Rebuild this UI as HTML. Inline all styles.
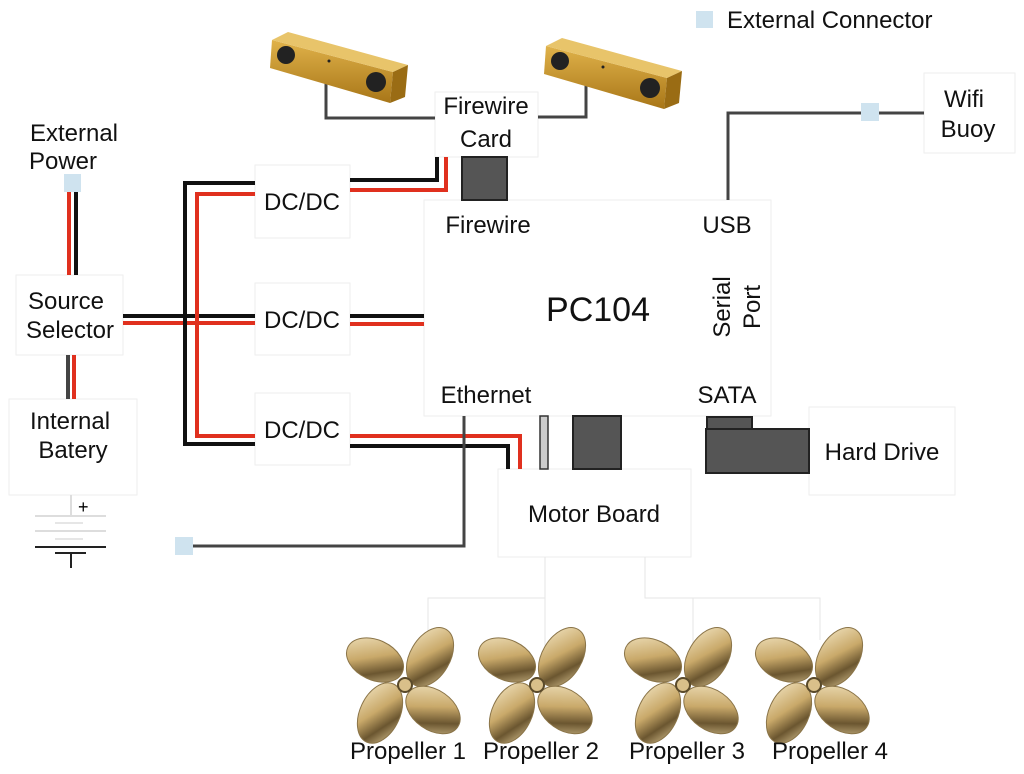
<!DOCTYPE html>
<html><head><meta charset="utf-8"><style>
html,body{margin:0;padding:0;background:#fff;}
svg{display:block;}
svg text{font-family:"Liberation Sans",Arial,sans-serif;}
</style></head><body>
<svg width="1024" height="774" viewBox="0 0 1024 774" xmlns="http://www.w3.org/2000/svg" font-family="Liberation Sans, sans-serif">
<defs>
<linearGradient id="gold" x1="0" y1="0" x2="1" y2="1">
<stop offset="0" stop-color="#f3e6c4"/><stop offset="0.45" stop-color="#c9a96a"/><stop offset="0.7" stop-color="#6b5630"/><stop offset="1" stop-color="#e2cc98"/></linearGradient>
<linearGradient id="cam" x1="0" y1="0" x2="0" y2="1">
<stop offset="0" stop-color="#e0b24a"/><stop offset="1" stop-color="#a87618"/></linearGradient>
</defs>
<g fill="#fff" stroke="#eeeeee" stroke-width="1">
<rect x="16" y="275" width="107" height="80"/>
<rect x="9" y="399" width="128" height="96"/>
<rect x="255" y="165" width="95" height="73"/>
<rect x="255" y="283" width="95" height="72"/>
<rect x="255" y="393" width="95" height="72"/>
<rect x="424" y="200" width="347" height="216"/>
<rect x="435" y="92" width="103" height="65"/>
<rect x="498" y="469" width="193" height="88"/>
<rect x="809" y="407" width="146" height="88"/>
<rect x="924" y="73" width="91" height="80"/>
</g>
<g fill="none" stroke-width="4">
<path d="M69 192V275" stroke="#e0301e"/><path d="M76 192V275" stroke="#111"/>
<path d="M68 355V399" stroke="#444"/><path d="M74 355V399" stroke="#e0301e"/>
<path d="M123 316H255" stroke="#111"/><path d="M123 323H255" stroke="#e0301e"/>
<path d="M255 183H185V444H255" stroke="#111"/>
<path d="M255 194H197V436H255" stroke="#e0301e"/>
<path d="M350 180H437V157" stroke="#111"/>
<path d="M350 190H446V157" stroke="#e0301e"/>
<path d="M350 316H424" stroke="#111"/><path d="M350 324H424" stroke="#e0301e"/>
<path d="M350 436H520V469" stroke="#e0301e"/>
<path d="M350 446H508V469" stroke="#111"/>
<path d="M464 416V546H193" stroke="#444" stroke-width="3"/>
<path d="M728 200V113H861M879 113H924" stroke="#444" stroke-width="3"/>
<path d="M326 80V118H435" stroke="#444" stroke-width="3"/>
<path d="M586 84V117H538" stroke="#444" stroke-width="3"/>
</g>
<g fill="none" stroke="#e6e6e6" stroke-width="1">
<path d="M545 557V598H428V640M545 598V700"/>
<path d="M645 557V598H820V640M693 598V700"/>
</g>
<g fill="#cfe3ef">
<rect x="696" y="11" width="17" height="17"/>
<rect x="64" y="174" width="17" height="18"/>
<rect x="861" y="103" width="18" height="18"/>
<rect x="175" y="537" width="18" height="18"/>
</g>
<g stroke="#222" stroke-width="2" fill="#555">
<rect x="462" y="157" width="45" height="43"/>
<rect x="573" y="416" width="48" height="53"/>
<rect x="707" y="417" width="45" height="12"/>
<rect x="706" y="429" width="103" height="44"/>
</g>
<rect x="540" y="416" width="8" height="53" fill="#ccc" stroke="#333" stroke-width="1.5"/>
<g stroke-width="2" fill="none">
<path d="M71 495V515" stroke="#ddd"/>
<path d="M35 516H106M35 531H106" stroke="#ddd"/>
<path d="M55 523H83M55 539H83" stroke="#e6e6e6"/>
<path d="M35 547H106" stroke="#222"/>
<path d="M55 553H86M71 553V568" stroke="#222"/>
</g>
<text x="78" y="513" font-size="18">+</text>
<g id="cam1">
<polygon points="272,40 393,72 390,103 270,68" fill="url(#cam)"/>
<polygon points="272,40 288,32 408,65 393,72" fill="#e8c46a"/>
<polygon points="393,72 408,65 405,97 390,103" fill="#9a6c14"/>
<circle cx="286" cy="55" r="9" fill="#222"/><circle cx="376" cy="82" r="10" fill="#222"/>
<circle cx="329" cy="61" r="1.5" fill="#222"/>
</g>
<use href="#cam1" transform="translate(274,6)"/>
<g id="p1" transform="translate(405,685)">
<g fill="url(#gold)" stroke="#8a7448" stroke-width="1">
<ellipse cx="-30" cy="-25" rx="30" ry="20" transform="rotate(25 -30 -25)"/>
<ellipse cx="25" cy="-28" rx="20" ry="32" transform="rotate(30 25 -28)"/>
<ellipse cx="28" cy="25" rx="30" ry="20" transform="rotate(35 28 25)"/>
<ellipse cx="-25" cy="28" rx="20" ry="32" transform="rotate(25 -25 28)"/>
</g>
<circle r="7" fill="#d9c08a" stroke="#5a4a2a" stroke-width="2"/>
</g>
<use href="#p1" transform="translate(132,0)"/>
<use href="#p1" transform="translate(278,0)"/>
<use href="#p1" transform="translate(409,0)"/>
<g font-size="24" fill="#111" text-anchor="middle">
<text x="74" y="141">External</text><text x="63" y="169">Power</text>
<text x="66" y="309">Source</text><text x="70" y="338">Selector</text>
<text x="70" y="429">Internal</text><text x="73" y="458">Batery</text>
<text x="302" y="210">DC/DC</text><text x="302" y="328">DC/DC</text><text x="302" y="438">DC/DC</text>
<text x="486" y="114">Firewire</text><text x="486" y="147">Card</text>
<text x="488" y="233">Firewire</text><text x="727" y="233">USB</text>
<text x="486" y="403">Ethernet</text><text x="727" y="403">SATA</text>
<text x="598" y="321" font-size="34">PC104</text>
<text x="594" y="522">Motor Board</text>
<text x="882" y="460">Hard Drive</text>
<text x="964" y="107">Wifi</text><text x="968" y="137">Buoy</text>
<text x="408" y="759">Propeller 1</text><text x="541" y="759">Propeller 2</text>
<text x="687" y="759">Propeller 3</text><text x="830" y="759">Propeller 4</text>
<text transform="translate(730,307) rotate(-90)">Serial</text>
<text transform="translate(760,307) rotate(-90)">Port</text>
</g>
<text x="727" y="28" font-size="24" fill="#111">External Connector</text>
</svg>
</body></html>
